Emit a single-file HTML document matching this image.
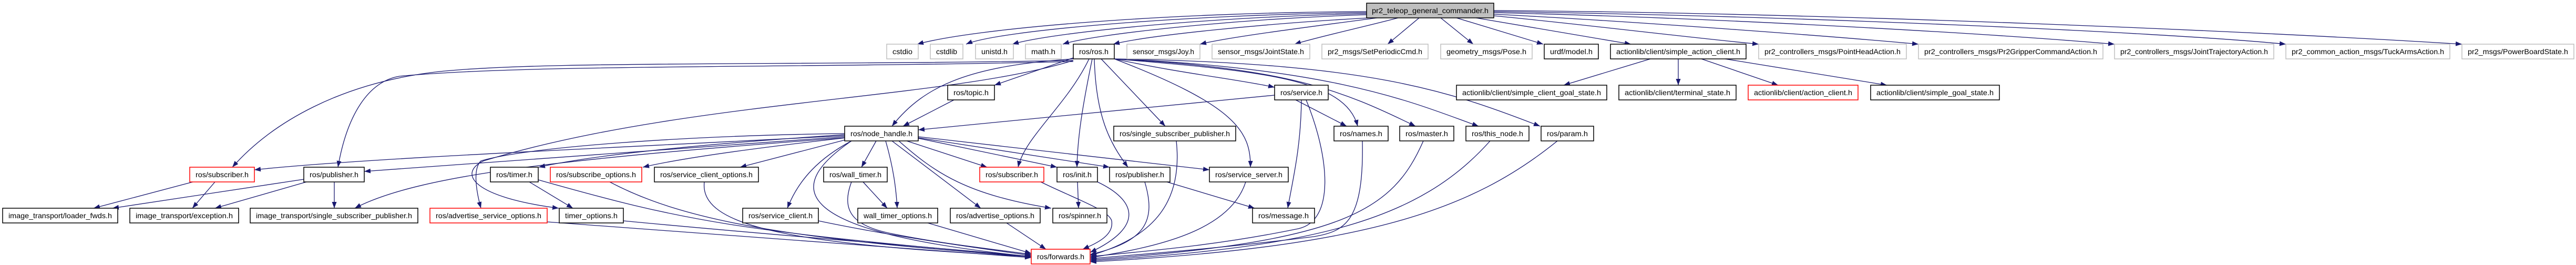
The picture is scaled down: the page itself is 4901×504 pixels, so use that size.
<!DOCTYPE html>
<html><head><meta charset="utf-8"><style>
html,body{margin:0;padding:0;background:#fff;}
svg{display:block;}
text{font-family:"Liberation Sans",sans-serif;font-size:14px;fill:#000;}
</style></head><body>
<svg width="4901" height="504" viewBox="0 0 4901 504" xmlns="http://www.w3.org/2000/svg">
<defs>
<marker id="a" markerUnits="userSpaceOnUse" markerWidth="12" markerHeight="9" refX="12" refY="4.5" orient="auto">
<path d="M0,0 L12,4.5 L0,9 z" fill="#191970"/>
</marker>
</defs>
<g fill="none" stroke="#191970" stroke-width="1.3" marker-end="url(#a)">
<!-- top node edges -->
<path d="M2600,22 C2200,24 1850,55 1745,84"/>
<path d="M2600,24 C2250,28 1900,58 1838,84"/>
<path d="M2600,26 C2300,32 2000,62 1926,84"/>
<path d="M2600,28 C2350,36 2080,65 2022,84"/>
<path d="M2605,34 C2400,45 2180,68 2118,84"/>
<path d="M2620,34 C2500,50 2340,70 2283,84"/>
<path d="M2660,34 C2600,50 2500,72 2463,84"/>
<path d="M2700,34 L2640,84"/>
<path d="M2741,34 L2803,84"/>
<path d="M2771,34 L2936,84"/>
<path d="M2808,34 L3103,84"/>
<path d="M2842,30 C3000,45 3200,70 3346,84"/>
<path d="M2842,27 C3100,40 3500,70 3650,84"/>
<path d="M2842,24 C3300,35 3800,65 4023,84"/>
<path d="M2842,22 C3400,30 4100,60 4349,84"/>
<path d="M2842,20 C3500,25 4300,60 4684,84"/>
<!-- ros/ros.h -->
<path d="M2042,110 L1892,162"/>
<path d="M2042,112 C1850,125 1760,160 1697,240"/>
<path d="M2072,112 C2030,200 1950,260 1937,318"/>
<path d="M2078,112 C2060,200 2050,260 2049,318"/>
<path d="M2082,112 C2085,220 2110,270 2146,318"/>
<path d="M2095,112 L2217,240"/>
<path d="M2120,112 C2350,200 2380,250 2379,318"/>
<path d="M2120,112 C2250,140 2350,150 2425,166"/>
<path d="M2120,112 C2400,135 2560,150 2583,240"/>
<path d="M2120,112 C2450,130 2550,170 2693,240"/>
<path d="M2120,112 C2550,130 2700,200 2813,240"/>
<path d="M2120,112 C2600,120 2750,170 2930,240"/>
<path d="M2042,115 C1500,125 1000,115 820,138 C650,160 520,230 442,318"/>
<path d="M2042,117 C1500,130 1000,122 760,145 C700,155 660,220 643,318"/>
<path d="M2042,115 C1800,190 1300,190 920,306 C870,330 900,375 1063,396"/>
<!-- ros/service.h -->
<path d="M2425,181 L1747,247"/>
<path d="M2465,190 L2562,240"/>
<path d="M2476,190 C2475,280 2460,340 2450,396"/>
<path d="M2485,190 C2530,300 2540,420 2470,435 C2300,470 2150,480 2074,488"/>
<!-- topic -->
<path d="M1815,190 L1718,240"/>
<!-- node_handle -->
<path d="M1607,258 C1200,280 700,300 484,323"/>
<path d="M1607,260 C1200,290 900,310 693,326"/>
<path d="M1607,262 C1100,300 800,330 675,396"/>
<path d="M1607,256 C1400,270 1150,290 1025,318"/>
<path d="M1610,262 C1450,280 1300,300 1223,318"/>
<path d="M1612,265 L1408,318"/>
<path d="M1607,254 C1300,258 1000,280 915,306 C900,320 905,360 915,396"/>
<path d="M1620,268 C1560,300 1520,340 1498,396"/>
<path d="M1667,268 L1639,318"/>
<path d="M1685,268 C1700,320 1705,360 1707,396"/>
<path d="M1697,268 L1866,396"/>
<path d="M1710,268 C1780,330 1840,370 2000,396"/>
<path d="M1725,268 L1878,318"/>
<path d="M1747,263 L2011,318"/>
<path d="M1747,262 L2111,318"/>
<path d="M1747,260 L2301,323"/>
<!-- to forwards -->
<path d="M1620,268 C1500,350 1480,440 1962,488"/>
<path d="M1024,342 C1300,420 1400,440 1962,488"/>
<path d="M1160,346 C1300,420 1500,455 1962,488"/>
<path d="M1340,346 C1330,430 1500,465 1962,488"/>
<path d="M1041,422 C1400,450 1700,472 1962,490"/>
<path d="M1186,420 C1500,450 1800,472 1962,488"/>
<path d="M1557,420 C1700,450 1850,470 1962,486"/>
<path d="M1620,346 C1600,400 1620,430 1700,445 C1800,465 1900,475 1962,484"/>
<path d="M1765,424 L1962,482"/>
<path d="M1915,424 L1990,474"/>
<path d="M1980,346 C2050,380 2110,400 2115,420 C2120,450 2080,465 2060,474"/>
<path d="M2088,346 C2160,380 2180,430 2074,480"/>
<path d="M2178,346 C2200,420 2180,460 2074,484"/>
<path d="M2238,268 C2250,380 2200,450 2074,486"/>
<path d="M2370,346 C2340,440 2200,470 2074,490"/>
<path d="M2592,268 C2595,420 2560,440 2500,450 C2300,475 2150,485 2074,492"/>
<path d="M2708,268 C2650,400 2560,460 2074,494"/>
<path d="M2835,268 C2700,420 2500,470 2074,496"/>
<path d="M2963,268 C2800,400 2600,470 2074,498"/>
<!-- misc -->
<path d="M2050,346 L2052,396"/>
<path d="M2220,346 L2387,396"/>
<path d="M1007,346 L1090,396"/>
<path d="M1642,346 L1688,396"/>
<path d="M367,346 L178,396"/>
<path d="M409,346 L366,396"/>
<path d="M578,341 L214,396"/>
<path d="M583,346 L409,396"/>
<path d="M636,346 L636,396"/>
<!-- simple_action_client -->
<path d="M3140,112 L2975,162"/>
<path d="M3193,112 L3193,162"/>
<path d="M3237,112 L3383,162"/>
<path d="M3282,112 L3590,162"/>
</g>
<g stroke-width="1.5">
<!-- top -->
<rect x="2600" y="6" width="242" height="28" fill="#bfbfbf" stroke="#000"/>
<text x="2721" y="25" text-anchor="middle" textLength="222" lengthAdjust="spacingAndGlyphs">pr2_teleop_general_commander.h</text>
<!-- row1 -->
<g fill="#fff">
<rect x="1687" y="84" width="60" height="28" stroke="#bfbfbf"/>
<rect x="1770" y="84" width="62" height="28" stroke="#bfbfbf"/>
<rect x="1856" y="84" width="72" height="28" stroke="#bfbfbf"/>
<rect x="1951" y="84" width="68" height="28" stroke="#bfbfbf"/>
<rect x="2042" y="84" width="78" height="28" stroke="#000"/>
<rect x="2144" y="84" width="139" height="28" stroke="#bfbfbf"/>
<rect x="2306" y="84" width="186" height="28" stroke="#bfbfbf"/>
<rect x="2515" y="84" width="202" height="28" stroke="#bfbfbf"/>
<rect x="2741" y="84" width="174" height="28" stroke="#bfbfbf"/>
<rect x="2938" y="84" width="103" height="28" stroke="#000"/>
<rect x="3064" y="84" width="258" height="28" stroke="#000"/>
<rect x="3346" y="84" width="281" height="28" stroke="#bfbfbf"/>
<rect x="3650" y="84" width="351" height="28" stroke="#bfbfbf"/>
<rect x="4023" y="84" width="303" height="28" stroke="#bfbfbf"/>
<rect x="4349" y="84" width="312" height="28" stroke="#bfbfbf"/>
<rect x="4684" y="84" width="213" height="28" stroke="#bfbfbf"/>
<!-- row2 -->
<rect x="1803" y="162" width="89" height="28" stroke="#000"/>
<rect x="2425" y="162" width="102" height="28" stroke="#000"/>
<rect x="2771" y="162" width="286" height="28" stroke="#000"/>
<rect x="3080" y="162" width="223" height="28" stroke="#000"/>
<rect x="3326" y="162" width="209" height="28" stroke="#f00"/>
<rect x="3559" y="162" width="245" height="28" stroke="#000"/>
<!-- row3 -->
<rect x="1607" y="240" width="140" height="28" stroke="#000"/>
<rect x="2119" y="240" width="232" height="28" stroke="#000"/>
<rect x="2538" y="240" width="103" height="28" stroke="#000"/>
<rect x="2663" y="240" width="103" height="28" stroke="#000"/>
<rect x="2789" y="240" width="120" height="28" stroke="#000"/>
<rect x="2932" y="240" width="100" height="28" stroke="#000"/>
<!-- row4 -->
<rect x="361" y="318" width="123" height="28" stroke="#f00"/>
<rect x="578" y="318" width="115" height="28" stroke="#000"/>
<rect x="933" y="318" width="91" height="28" stroke="#000"/>
<rect x="1047" y="318" width="174" height="28" stroke="#f00"/>
<rect x="1245" y="318" width="198" height="28" stroke="#000"/>
<rect x="1567" y="318" width="121" height="28" stroke="#000"/>
<rect x="1864" y="318" width="122" height="28" stroke="#f00"/>
<rect x="2011" y="318" width="77" height="28" stroke="#000"/>
<rect x="2111" y="318" width="115" height="28" stroke="#000"/>
<rect x="2301" y="318" width="150" height="28" stroke="#000"/>
<!-- row5 -->
<rect x="5" y="396" width="219" height="28" stroke="#000"/>
<rect x="247" y="396" width="207" height="28" stroke="#000"/>
<rect x="476" y="396" width="319" height="28" stroke="#000"/>
<rect x="818" y="396" width="223" height="28" stroke="#f00"/>
<rect x="1064" y="396" width="122" height="28" stroke="#000"/>
<rect x="1413" y="396" width="144" height="28" stroke="#000"/>
<rect x="1632" y="396" width="152" height="28" stroke="#000"/>
<rect x="1808" y="396" width="171" height="28" stroke="#000"/>
<rect x="2003" y="396" width="103" height="28" stroke="#000"/>
<rect x="2383" y="396" width="118" height="28" stroke="#000"/>
<!-- row6 -->
<rect x="1962" y="474" width="112" height="28" stroke="#f00"/>
</g>
</g>
<g text-anchor="middle" lengthAdjust="spacingAndGlyphs">
<text x="1717" y="103" textLength="38" lengthAdjust="spacingAndGlyphs">cstdio</text>
<text x="1801" y="103" textLength="40" lengthAdjust="spacingAndGlyphs">cstdlib</text>
<text x="1892" y="103" textLength="50" lengthAdjust="spacingAndGlyphs">unistd.h</text>
<text x="1985" y="103" textLength="46" lengthAdjust="spacingAndGlyphs">math.h</text>
<text x="2081" y="103" textLength="56" lengthAdjust="spacingAndGlyphs">ros/ros.h</text>
<text x="2213.5" y="103" textLength="117" lengthAdjust="spacingAndGlyphs">sensor_msgs/Joy.h</text>
<text x="2399" y="103" textLength="164" lengthAdjust="spacingAndGlyphs">sensor_msgs/JointState.h</text>
<text x="2616" y="103" textLength="180" lengthAdjust="spacingAndGlyphs">pr2_msgs/SetPeriodicCmd.h</text>
<text x="2828" y="103" textLength="152" lengthAdjust="spacingAndGlyphs">geometry_msgs/Pose.h</text>
<text x="2989.5" y="103" textLength="81" lengthAdjust="spacingAndGlyphs">urdf/model.h</text>
<text x="3193" y="103" textLength="236" lengthAdjust="spacingAndGlyphs">actionlib/client/simple_action_client.h</text>
<text x="3486.5" y="103" textLength="259" lengthAdjust="spacingAndGlyphs">pr2_controllers_msgs/PointHeadAction.h</text>
<text x="3825.5" y="103" textLength="329" lengthAdjust="spacingAndGlyphs">pr2_controllers_msgs/Pr2GripperCommandAction.h</text>
<text x="4174.5" y="103" textLength="281" lengthAdjust="spacingAndGlyphs">pr2_controllers_msgs/JointTrajectoryAction.h</text>
<text x="4505" y="103" textLength="290" lengthAdjust="spacingAndGlyphs">pr2_common_action_msgs/TuckArmsAction.h</text>
<text x="4790.5" y="103" textLength="191" lengthAdjust="spacingAndGlyphs">pr2_msgs/PowerBoardState.h</text>

<text x="1847.5" y="181" textLength="67" lengthAdjust="spacingAndGlyphs">ros/topic.h</text>
<text x="2476" y="181" textLength="80" lengthAdjust="spacingAndGlyphs">ros/service.h</text>
<text x="2914" y="181" textLength="264" lengthAdjust="spacingAndGlyphs">actionlib/client/simple_client_goal_state.h</text>
<text x="3191.5" y="181" textLength="201" lengthAdjust="spacingAndGlyphs">actionlib/client/terminal_state.h</text>
<text x="3430.5" y="181" textLength="187" lengthAdjust="spacingAndGlyphs">actionlib/client/action_client.h</text>
<text x="3681.5" y="181" textLength="223" lengthAdjust="spacingAndGlyphs">actionlib/client/simple_goal_state.h</text>

<text x="1677" y="259" textLength="118" lengthAdjust="spacingAndGlyphs">ros/node_handle.h</text>
<text x="2235" y="259" textLength="210" lengthAdjust="spacingAndGlyphs">ros/single_subscriber_publisher.h</text>
<text x="2589.5" y="259" textLength="81" lengthAdjust="spacingAndGlyphs">ros/names.h</text>
<text x="2714.5" y="259" textLength="81" lengthAdjust="spacingAndGlyphs">ros/master.h</text>
<text x="2849" y="259" textLength="98" lengthAdjust="spacingAndGlyphs">ros/this_node.h</text>
<text x="2982" y="259" textLength="78" lengthAdjust="spacingAndGlyphs">ros/param.h</text>

<text x="422.5" y="337" textLength="101" lengthAdjust="spacingAndGlyphs">ros/subscriber.h</text>
<text x="635.5" y="337" textLength="93" lengthAdjust="spacingAndGlyphs">ros/publisher.h</text>
<text x="978.5" y="337" textLength="69" lengthAdjust="spacingAndGlyphs">ros/timer.h</text>
<text x="1134" y="337" textLength="152" lengthAdjust="spacingAndGlyphs">ros/subscribe_options.h</text>
<text x="1344" y="337" textLength="176" lengthAdjust="spacingAndGlyphs">ros/service_client_options.h</text>
<text x="1627.5" y="337" textLength="99" lengthAdjust="spacingAndGlyphs">ros/wall_timer.h</text>
<text x="1925" y="337" textLength="100" lengthAdjust="spacingAndGlyphs">ros/subscriber.h</text>
<text x="2049.5" y="337" textLength="55" lengthAdjust="spacingAndGlyphs">ros/init.h</text>
<text x="2168.5" y="337" textLength="93" lengthAdjust="spacingAndGlyphs">ros/publisher.h</text>
<text x="2376" y="337" textLength="128" lengthAdjust="spacingAndGlyphs">ros/service_server.h</text>

<text x="114.5" y="415" textLength="197" lengthAdjust="spacingAndGlyphs">image_transport/loader_fwds.h</text>
<text x="350.5" y="415" textLength="185" lengthAdjust="spacingAndGlyphs">image_transport/exception.h</text>
<text x="635.5" y="415" textLength="297" lengthAdjust="spacingAndGlyphs">image_transport/single_subscriber_publisher.h</text>
<text x="929.5" y="415" textLength="201" lengthAdjust="spacingAndGlyphs">ros/advertise_service_options.h</text>
<text x="1125" y="415" textLength="100" lengthAdjust="spacingAndGlyphs">timer_options.h</text>
<text x="1485" y="415" textLength="122" lengthAdjust="spacingAndGlyphs">ros/service_client.h</text>
<text x="1708" y="415" textLength="130" lengthAdjust="spacingAndGlyphs">wall_timer_options.h</text>
<text x="1893.5" y="415" textLength="149" lengthAdjust="spacingAndGlyphs">ros/advertise_options.h</text>
<text x="2054.5" y="415" textLength="81" lengthAdjust="spacingAndGlyphs">ros/spinner.h</text>
<text x="2442" y="415" textLength="96" lengthAdjust="spacingAndGlyphs">ros/message.h</text>

<text x="2018" y="493" textLength="90" lengthAdjust="spacingAndGlyphs">ros/forwards.h</text>
</g>
</svg>
</body></html>
